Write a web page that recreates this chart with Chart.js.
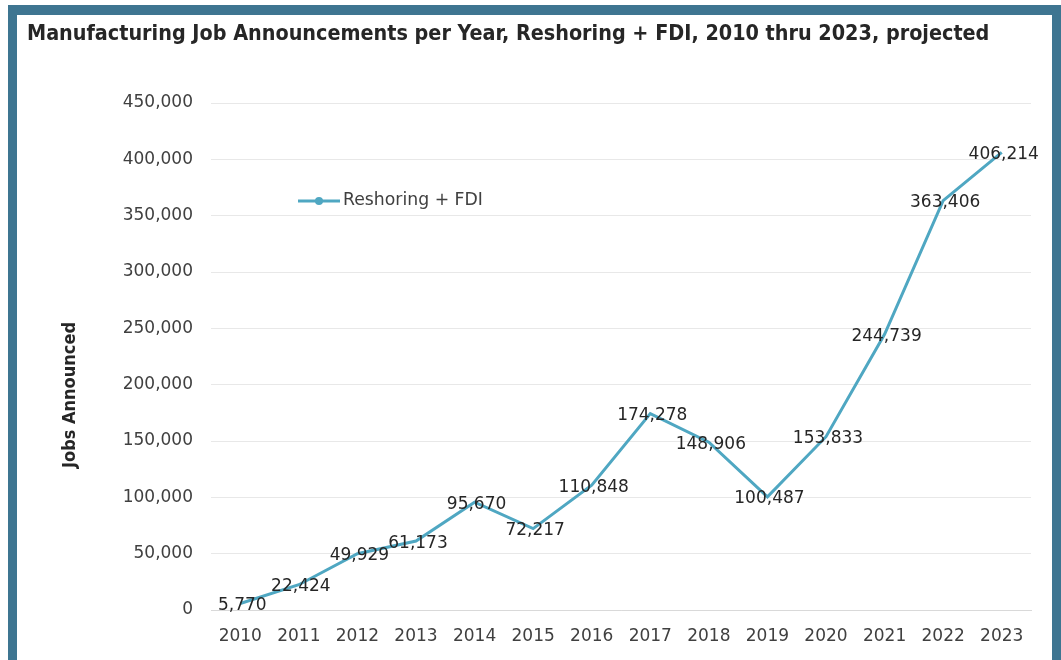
<!DOCTYPE html>
<html>
<head>
<meta charset="utf-8">
<script src="https://cdn.jsdelivr.net/npm/chart.js@4.4.0/dist/chart.umd.min.js"></script>
<style>
  html, body { margin: 0; padding: 0; background: #ffffff; width: 1061px; height: 660px; overflow: hidden; }
  #frame { position: absolute; left: 8px; top: 5px; width: 1035px; height: 660px;
           border-left: 9px solid #3e7591; border-top: 10px solid #3e7591; border-right: 9px solid #3e7591; }
  #wrap { position: absolute; left: 0; top: 0; width: 1061px; height: 660px; }
</style>
</head>
<body>
<div id="frame"></div>
<div id="wrap"><canvas id="c" width="1061" height="660"></canvas></div>
<script>
const titleText = "Manufacturing Job Announcements per Year, Reshoring + FDI, 2010 thru 2023, projected";
const yAxisTitle = "Jobs Announced";
const seriesName = "Reshoring + FDI";
const years = ["2010","2011","2012","2013","2014","2015","2016","2017","2018","2019","2020","2021","2022","2023"];
const jobs = [5770, 22424, 49929, 61173, 95670, 72217, 110848, 174278, 148906, 100487, 153833, 244739, 363406, 406214];
const yMin = 0, yMax = 450000, yStep = 50000;

const lineColor = "#4fa7c2";
const FONT = "'DejaVu Sans', sans-serif";

function fitSize(ctx, text, target, weight, family, base) {
  ctx.font = weight + " " + base + "px " + family;
  const w = ctx.measureText(text).width;
  return base * target / w;
}

const decor = {
  id: 'decor',
  afterDraw(chart) {
    const ctx = chart.ctx;
    ctx.save();
    // title
    const ts = fitSize(ctx, titleText, 963, "bold", "'DejaVu Sans Condensed', 'DejaVu Sans', sans-serif", 20);
    ctx.font = "bold " + ts + "px 'DejaVu Sans Condensed', 'DejaVu Sans', sans-serif";
    ctx.fillStyle = "#262626";
    ctx.textAlign = "left";
    ctx.textBaseline = "alphabetic";
    ctx.fillText(titleText, 27, 40);

    // y axis title
    const ys = fitSize(ctx, yAxisTitle, 146, "bold", "'DejaVu Sans Condensed', 'DejaVu Sans', sans-serif", 14);
    ctx.font = "bold " + ys + "px 'DejaVu Sans Condensed', 'DejaVu Sans', sans-serif";
    ctx.translate(70, 395);
    ctx.rotate(-Math.PI / 2);
    ctx.textAlign = "center";
    ctx.textBaseline = "middle";
    ctx.fillStyle = "#262626";
    ctx.fillText(yAxisTitle, 0, 0);
    ctx.setTransform(1, 0, 0, 1, 0, 0);

    // legend
    ctx.strokeStyle = lineColor;
    ctx.lineWidth = 3;
    ctx.beginPath();
    ctx.moveTo(298, 201);
    ctx.lineTo(340, 201);
    ctx.stroke();
    ctx.fillStyle = lineColor;
    ctx.beginPath();
    ctx.arc(319, 201, 4, 0, Math.PI * 2);
    ctx.fill();
    const ls = fitSize(ctx, seriesName, 140, "normal", FONT, 16);
    ctx.font = "normal " + ls + "px " + FONT;
    ctx.fillStyle = "#404040";
    ctx.textAlign = "left";
    ctx.textBaseline = "middle";
    ctx.fillText(seriesName, 343, 201);

    // data labels
    const meta = chart.getDatasetMeta(0);
    ctx.font = "normal 17px " + FONT;
    ctx.fillStyle = "#262626";
    ctx.textAlign = "center";
    ctx.textBaseline = "middle";
    meta.data.forEach((pt, i) => {
      const v = chart.data.datasets[0].data[i];
      ctx.fillText(v.toLocaleString('en-US'), pt.x + 2, pt.y + 2);
    });
    ctx.restore();
  }
};

new Chart(document.getElementById('c'), {
  type: 'line',
  data: {
    labels: years,
    datasets: [{
      label: seriesName,
      data: jobs,
      borderColor: lineColor,
      backgroundColor: lineColor,
      borderWidth: 3,
      pointRadius: 0,
      tension: 0,
      fill: false
    }]
  },
  options: {
    responsive: false,
    animation: false,
    devicePixelRatio: 1,
    layout: { padding: { left: 0, top: 103, right: 30, bottom: 0 } },
    plugins: { legend: { display: false }, tooltip: { enabled: false }, title: { display: false } },
    scales: {
      x: {
        offset: true,
        grid: { display: false, drawTicks: false },
        border: { display: true, color: '#d9d9d9', width: 1 },
        ticks: { color: '#404040', font: { family: FONT, size: 17 }, padding: 16, maxRotation: 0, autoSkip: false },
        afterFit(s) { s.height = 50; }
      },
      y: {
        min: yMin, max: yMax,
        grid: { color: '#e8e8e8', lineWidth: 1, drawTicks: false },
        border: { display: false },
        ticks: {
          stepSize: yStep,
          color: '#404040',
          font: { family: FONT, size: 17 },
          padding: 18,
          callback: v => v.toLocaleString('en-US')
        },
        afterFit(s) { s.width = 211; }
      }
    }
  },
  plugins: [decor]
});
</script>
</body>
</html>
